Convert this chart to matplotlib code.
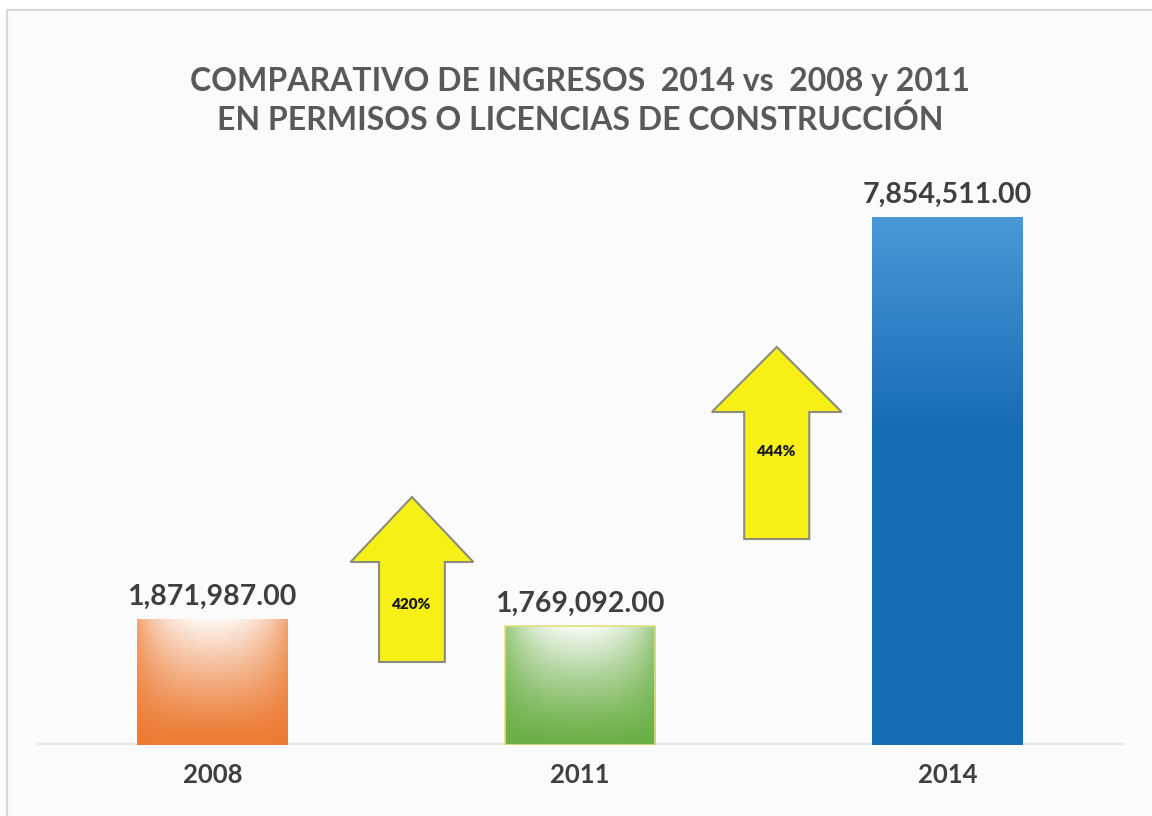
import numpy as np
import matplotlib
matplotlib.use("Agg")
import matplotlib.pyplot as plt
from matplotlib.patches import Rectangle, Polygon
from matplotlib.colors import to_rgb

# datos
anios = ["2008", "2011", "2014"]
ingresos = [1871987.00, 1769092.00, 7854511.00]
etiquetas = ["1,871,987.00", "1,769,092.00", "7,854,511.00"]
porcentajes = ["420%", "444%"]

titulo = "COMPARATIVO DE INGRESOS  2014 vs  2008 y 2011\nEN PERMISOS O LICENCIAS DE CONSTRUCCIÓN"

gris = "#595959"
oscuro = "#3f3f3f"
fuente = ["Lato", "DejaVu Sans"]

fig = plt.figure(figsize=(11.52, 8.16), dpi=100)
fig.patch.set_facecolor("white")

# marco de fondo
fig.patches.append(Rectangle((7 / 1152, -0.01), 1.02, 1 - 10 / 816 + 0.01,
                             transform=fig.transFigure, facecolor="#fbfbfb",
                             edgecolor="#dcd8d4", lw=1.5, zorder=-10))

ax = fig.add_axes([10 / 1152, 71 / 816, 1140 / 1152, 645 / 816])
ax.set_facecolor("none")
ax.set_xlim(-0.55, 2.55)
ax.set_ylim(0, 7854511 * 645 / 528)
for s in ax.spines.values():
    s.set_visible(False)
ax.set_yticks([])

x = np.arange(len(anios))
ancho = 0.41

# linea base
ax.plot([-0.476, 2.48], [0, 0], color="#e8e8e8", lw=3, zorder=1, solid_capstyle="butt")


def degradado(base, tipo, n=200):
    base = np.array(to_rgb(base))
    yy, xx = np.mgrid[0:1:n * 1j, -1:1:n * 1j]  # yy 0 abajo -> 1 arriba
    if tipo == "blanco":
        w = np.clip(yy ** 1.3 * (1 - 0.55 * xx ** 2), 0, 1) * 0.95
        w = w * (1 - 0.25 * np.abs(xx) ** 6)
        img = base * (1 - w[..., None]) + np.ones(3) * w[..., None]
    else:
        claro = np.array(to_rgb("#4a98d6"))
        t = np.clip((yy - 0.6) / 0.4, 0, 1)
        img = base * (1 - t[..., None]) + claro * t[..., None]
    return img


colores = ["#ec7a32", "#6aaf45", "#176cb6"]
tipos = ["blanco", "blanco", "azul"]
bordes = ["none", "#e3df7a", "none"]

barras = ax.bar(x, ingresos, width=ancho, color="none", edgecolor=bordes, lw=1.2, zorder=3)
for b, c, t in zip(barras, colores, tipos):
    x0, y0 = b.get_x(), b.get_y()
    w, h = b.get_width(), b.get_height()
    im = ax.imshow(degradado(c, t), extent=[x0, x0 + w, y0, y0 + h],
                   origin="lower", aspect="auto", zorder=2, interpolation="bilinear")
    im.set_clip_path(b)

for xi, v, lab in zip(x, ingresos, etiquetas):
    ax.annotate(lab, (xi, v), xytext=(0, 16), textcoords="offset points",
                ha="center", va="center", fontsize=20.5, fontweight="bold",
                color=oscuro, family=fuente)

# flechas amarillas entre barras
flechas = [
    (0.543, 1.235e6, 2.722e6, 3.689e6, 0.179, 0.334),
    (1.535, 3.064e6, 4.954e6, 5.921e6, 0.177, 0.353),
]
texto_y = [2.09e6, 4.36e6]
for (cx, y0, yh, yt, ws, wh), p, ty in zip(flechas, porcentajes, texto_y):
    pts = [(cx - ws / 2, y0), (cx + ws / 2, y0), (cx + ws / 2, yh), (cx + wh / 2, yh),
           (cx, yt), (cx - wh / 2, yh), (cx - ws / 2, yh)]
    ax.add_patch(Polygon(pts, closed=True, facecolor="#f7f017", edgecolor="#8c8c7a",
                         lw=1.5, zorder=4))
    ax.text(cx, ty, p, ha="center", va="center", fontsize=11, fontweight="heavy",
            color="#1a1a1a", family=fuente, zorder=5)

ax.set_xticks(x)
ax.set_xticklabels(anios, fontsize=18.5, fontweight="bold", color=oscuro, family=fuente)
ax.tick_params(axis="x", length=0, pad=13)

fig.text(580 / 1152, 1 - 101 / 816, titulo, ha="center", va="center", fontsize=23,
         fontweight="bold", color=gris, family=fuente, linespacing=1.35)

fig.savefig("out.png", dpi=100)
